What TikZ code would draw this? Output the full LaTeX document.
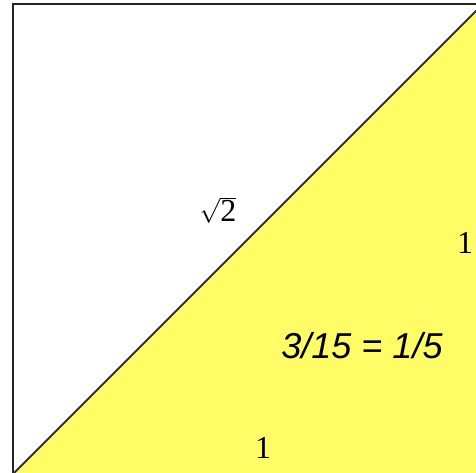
\documentclass[tikz,border=0pt]{standalone}
\usepackage{fontspec}
\setmainfont{Liberation Serif}
\setsansfont{Liberation Sans}
\usepackage{tikz}
\usetikzlibrary{calc}
\definecolor{pale}{RGB}{255,252,102}
\tikzset{
  edge/.style={draw=black!85, line width=2pt},
  diag/.style={draw=black!80, line width=2pt},
  slab/.style={font=\fontsize{32}{36}\selectfont, inner sep=0pt},
  frac/.style={font=\sffamily\itshape\fontsize{36}{40}\selectfont, inner sep=0pt}
}

\begin{document}
\begin{tikzpicture}[x=1pt, y=1pt]
		\useasboundingbox (0,0) rectangle (476,472);
		\clip (0,0) rectangle (476,472);
		\coordinate (bl) at (13,-2);
		\coordinate (tr) at (483,468);
		\coordinate (tl) at (13,468);
		\coordinate (br) at (483,-2);
		\fill[pale] (bl) -- (br) -- (tr) -- cycle;
		\draw[edge] (bl) rectangle (tr);
		\draw[diag] (bl) -- (tr);
		\node[slab] (hyp) at (218,262) {$\sqrt{\mbox{2}}$};
		\node[slab] (side) at (465,229) {1};
		\node[slab] (base) at (263,24) {1};
		\node[frac] (ratio) at (362,126) {3/15 = 1/5};
	\end{tikzpicture}
\end{document}
